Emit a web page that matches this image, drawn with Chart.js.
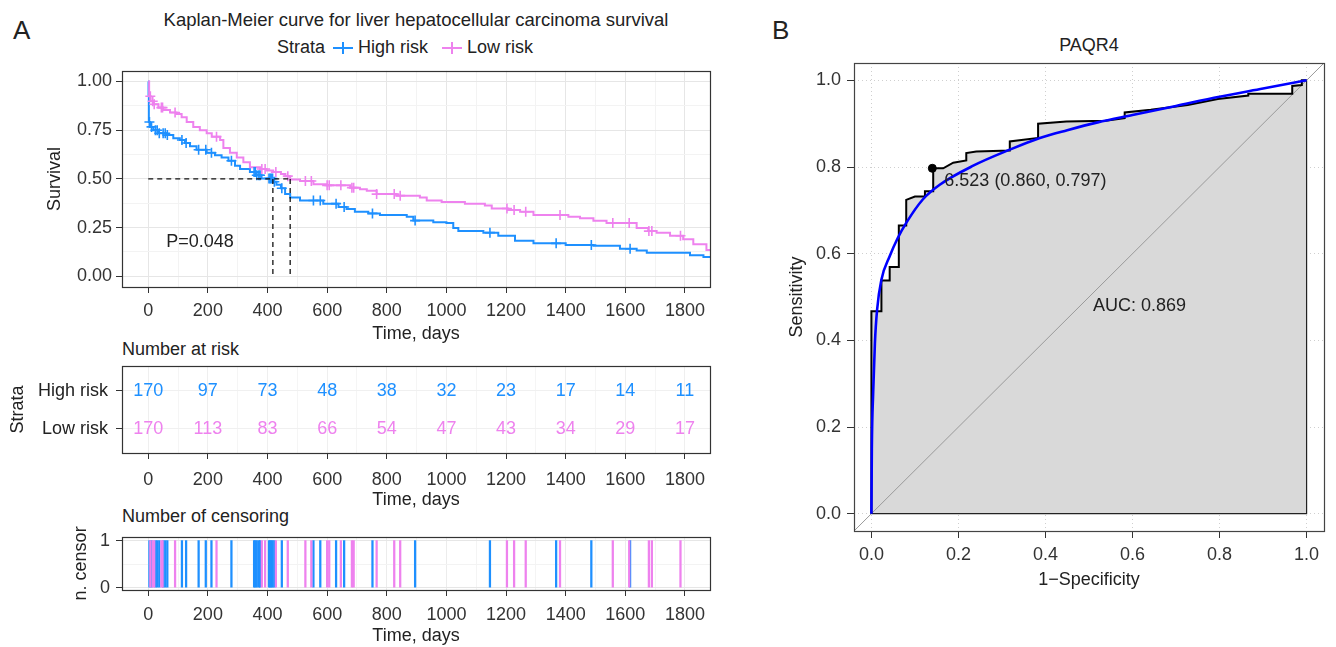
<!DOCTYPE html>
<html>
<head>
<meta charset="utf-8">
<title>KM curve and ROC</title>
<script src="https://cdn.jsdelivr.net/npm/chart.js@4.4.1/dist/chart.umd.min.js"></script>
<style>
  body { margin: 0; width: 1336px; height: 647px; background: #fff; position: relative; overflow: hidden;
         font-family: "Liberation Sans", Arial, sans-serif; color: #222; }
  canvas { position: absolute; }
  .txt { position: absolute; font-size: 18px; line-height: 22px; white-space: nowrap; }
  .key { display: inline-block; width: 20px; height: 12px; position: relative; vertical-align: -1px; }
  .key::before { content: ""; position: absolute; left: 0; right: 0; top: 5px; height: 2px; background: currentColor; }
  .key::after { content: ""; position: absolute; left: 9px; top: 0; width: 2px; height: 12px; background: currentColor; }
</style>
</head>
<body>
<div class="txt" style="left:13px;top:16px;font-size:26px;line-height:28px">A</div>
<div class="txt" style="left:772px;top:16px;font-size:26px;line-height:28px">B</div>
<div class="txt" style="left:0;width:832px;text-align:center;top:9px;font-size:18.5px">Kaplan-Meier curve for liver hepatocellular carcinoma survival</div>
<div class="txt" style="left:277px;top:36px">Strata
  <span class="key" style="color:#1E90FF;margin-left:3px"></span> High risk
  <span class="key" style="color:#EE82EE;margin-left:9px"></span> Low risk</div>
<div class="txt" style="left:122px;top:338px">Number at risk</div>
<div class="txt" style="left:122px;top:505px">Number of censoring</div>
<div class="txt" style="left:854px;width:470px;text-align:center;top:34px">PAQR4</div>

<canvas id="km" width="720" height="290" style="left:0;top:56px"></canvas>
<canvas id="risk" width="720" height="180" style="left:0;top:336px"></canvas>
<canvas id="cens" width="720" height="127" style="left:0;top:520px"></canvas>
<canvas id="roc" width="576" height="580" style="left:760px;top:30px"></canvas>

<script>
// ---- Kaplan-Meier data ----
const strataNames = ['High risk', 'Low risk'];
const highColor = '#1E90FF';
const lowColor = '#EE82EE';

const highTimes = [0, 1, 2, 6, 17, 34, 62, 84, 106, 123, 140, 162, 196, 224, 246, 269, 291, 308, 341, 363,
  380, 418, 430, 445, 459, 476, 509, 587, 638, 665, 693, 738, 777, 867, 889, 956, 1000, 1023, 1040, 1124,
  1174, 1230, 1292, 1400, 1493, 1582, 1638, 1672, 1817, 1862, 1884];
const highSurv = [1.00, 0.932, 0.792, 0.767, 0.750, 0.734, 0.725, 0.709, 0.700, 0.684, 0.667, 0.650, 0.634, 0.622, 0.610, 0.593, 0.568, 0.551, 0.535, 0.519,
  0.502, 0.485, 0.470, 0.452, 0.422, 0.405, 0.389, 0.373, 0.356, 0.345, 0.331, 0.323, 0.315, 0.306, 0.286, 0.278, 0.273, 0.248, 0.232, 0.224,
  0.208, 0.182, 0.169, 0.160, 0.157, 0.141, 0.132, 0.121, 0.108, 0.099, 0.099];

const lowTimes = [0, 3, 8, 17, 34, 50, 73, 95, 112, 129, 151, 173, 196, 213, 241, 252, 274, 297, 319, 341,
  375, 397, 419, 445, 460, 476, 509, 554, 598, 677, 710, 733, 766, 833, 911, 934, 984, 1062, 1129, 1152,
  1207, 1247, 1292, 1409, 1448, 1493, 1537, 1638, 1677, 1705, 1750, 1794, 1828, 1872, 1884];
const lowSurv = [1.00, 0.924, 0.899, 0.883, 0.866, 0.854, 0.841, 0.833, 0.817, 0.792, 0.767, 0.750, 0.734, 0.717, 0.700, 0.659, 0.634, 0.610, 0.585, 0.560,
  0.551, 0.543, 0.535, 0.525, 0.514, 0.497, 0.489, 0.472, 0.467, 0.455, 0.447, 0.439, 0.422, 0.414, 0.405, 0.389, 0.381, 0.373, 0.364, 0.348,
  0.340, 0.331, 0.315, 0.306, 0.298, 0.285, 0.273, 0.248, 0.232, 0.224, 0.208, 0.190, 0.165, 0.135, 0.135];

const censorHigh = [4, 11, 24, 30, 37, 50, 57, 64, 113, 127, 169, 193, 212, 279, 355, 359, 364, 371, 375, 405,
  409, 413, 417, 423, 448, 554, 577, 630, 657, 752, 895, 1146, 1368, 1486, 1616];
const censorLow = [7, 15, 20, 44, 48, 90, 229, 381, 392, 428, 468, 527, 547, 600, 607, 646, 683, 689, 766, 825,
  845, 1203, 1227, 1266, 1381, 1558, 1613, 1679, 1689, 1785];

const medianHigh = 418;
const medianLow = 476;
const pValueText = 'P=0.048';

const riskTimes = [0, 200, 400, 600, 800, 1000, 1200, 1400, 1600, 1800];
const riskHigh = [170, 97, 73, 48, 38, 32, 23, 17, 14, 11];
const riskLow = [170, 113, 83, 66, 54, 47, 43, 34, 29, 17];

const dayTicks = [0, 200, 400, 600, 800, 1000, 1200, 1400, 1600, 1800];
const survTicks = [0, 0.25, 0.5, 0.75, 1];
const dayMin = -88, dayMax = 1884;

// ---- ROC data ----
const rocFpr = [0, 0, 0.023, 0.023, 0.042, 0.042, 0.063, 0.063, 0.080, 0.080, 0.100, 0.123, 0.123, 0.142, 0.142,
  0.165, 0.188, 0.218, 0.218, 0.241, 0.318, 0.318, 0.383, 0.383, 0.448, 0.538, 0.582, 0.582, 0.642, 0.727,
  0.796, 0.866, 0.866, 0.967, 0.967, 0.989, 0.989, 1.0];
const rocTpr = [0, 0.467, 0.467, 0.538, 0.538, 0.569, 0.569, 0.665, 0.665, 0.724, 0.732, 0.732, 0.744, 0.744, 0.797,
  0.797, 0.810, 0.815, 0.832, 0.836, 0.838, 0.859, 0.867, 0.900, 0.905, 0.907, 0.913, 0.926, 0.932, 0.943,
  0.957, 0.965, 0.969, 0.969, 0.987, 0.989, 1.0, 1.0];
const smoothFpr = [0, 0.001, 0.004, 0.008, 0.013, 0.023, 0.042, 0.060, 0.080, 0.118, 0.157, 0.234, 0.318, 0.387, 0.450, 0.520, 0.600, 0.700, 0.800, 0.900, 1.0];
const smoothTpr = [0, 0.150, 0.278, 0.393, 0.470, 0.540, 0.594, 0.635, 0.671, 0.725, 0.759, 0.803, 0.840, 0.867, 0.885, 0.903, 0.920, 0.941, 0.962, 0.981, 1.0];
const thrFpr = 0.14, thrTpr = 0.797;
const thrLabel = '6.523 (0.860, 0.797)';
const aucLabel = 'AUC: 0.869';
const rocTicks = [0, 0.2, 0.4, 0.6, 0.8, 1.0];
const rocMin = -0.04, rocMax = 1.04;

// ---- defaults ----
const FONT = '"Liberation Sans", Arial, sans-serif';
Chart.defaults.font.family = FONT;
Chart.defaults.font.size = 18;
Chart.defaults.color = '#333';
Chart.defaults.animation = false;
Chart.defaults.events = [];
Chart.defaults.plugins.legend.display = false;
Chart.defaults.plugins.tooltip.enabled = false;

const pts = (xs, ys) => xs.map((x, i) => ({ x, y: ys[i] }));
function survAt(times, surv, t) {
  let s = surv[0];
  for (let i = 0; i < times.length; i++) { if (times[i] <= t) s = surv[i]; }
  return s;
}
const isIn = (arr, v) => arr.some(a => Math.abs(a - v) < 1e-9);

const panelBox = {
  id: 'panelBox',
  afterDatasetsDraw(chart, args, opts) {
    const a = chart.chartArea, ctx = chart.ctx;
    ctx.save();
    ctx.strokeStyle = opts.color || '#333';
    ctx.lineWidth = opts.width || 1;
    ctx.strokeRect(Math.round(a.left) + 0.5, Math.round(a.top) + 0.5, Math.round(a.right - a.left), Math.round(a.bottom - a.top));
    ctx.restore();
  }
};

function dayAxis(height, tickPad, titlePad, major, minor) {
  const grid = dayTicks.flatMap(v => [v, v + 100]).filter(v => v <= dayMax);
  return {
    type: 'linear', min: dayMin, max: dayMax, offset: false,
    afterBuildTicks: s => { s.ticks = grid.map(v => ({ value: v })); },
    afterFit: s => { s.height = height; },
    ticks: { autoSkip: false, maxRotation: 0, padding: tickPad, color: '#333',
      callback: v => isIn(dayTicks, v) ? String(v) : '' },
    grid: {
      offset: false,
      color: c => (c.tick && isIn(dayTicks, c.tick.value)) ? major : minor,
      tickColor: c => (c.tick && isIn(dayTicks, c.tick.value)) ? '#333' : 'rgba(0,0,0,0)',
      tickLength: 6
    },
    border: { display: false },
    title: { display: true, text: 'Time, days', color: '#222', padding: { top: 0, bottom: titlePad } }
  };
}

// ---- Kaplan-Meier chart ----
const survGrid = survTicks.flatMap(v => [v, v + 0.125]).filter(v => v <= 1);
new Chart(document.getElementById('km'), {
  type: 'line',
  data: {
    datasets: [
      { data: [{ x: 0, y: 0.5 }, { x: medianLow, y: 0.5 }], borderColor: '#111', borderWidth: 1.3, borderDash: [5, 4], pointRadius: 0, order: 0 },
      { data: [{ x: medianHigh, y: 0.5 }, { x: medianHigh, y: 0 }], borderColor: '#111', borderWidth: 1.3, borderDash: [5, 4], pointRadius: 0, order: 0 },
      { data: [{ x: medianLow, y: 0.5 }, { x: medianLow, y: 0 }], borderColor: '#111', borderWidth: 1.3, borderDash: [5, 4], pointRadius: 0, order: 0 },
      { data: censorLow.map(t => ({ x: t, y: survAt(lowTimes, lowSurv, t) })), showLine: false,
        pointStyle: 'cross', pointRadius: 5, pointBorderWidth: 1.6, borderColor: lowColor, order: 1 },
      { data: censorHigh.map(t => ({ x: t, y: survAt(highTimes, highSurv, t) })), showLine: false,
        pointStyle: 'cross', pointRadius: 5, pointBorderWidth: 1.6, borderColor: highColor, order: 1 },
      { data: pts(lowTimes, lowSurv), stepped: true, borderColor: lowColor, borderWidth: 2, pointRadius: 0, order: 2 },
      { data: pts(highTimes, highSurv), stepped: true, borderColor: highColor, borderWidth: 2, pointRadius: 0, order: 3 }
    ]
  },
  options: {
    responsive: false,
    layout: { padding: { left: 0, right: 10, top: 8, bottom: 0 } },
    scales: {
      x: dayAxis(59, 7, 1, '#e6e6e6', '#f3f3f3'),
      y: {
        type: 'linear', min: -0.055, max: 1.055,
        afterBuildTicks: s => { s.ticks = survGrid.map(v => ({ value: v })); },
        afterFit: s => { s.width = 122; },
        ticks: { autoSkip: false, padding: 4, color: '#333', callback: v => isIn(survTicks, v) ? v.toFixed(2) : '' },
        grid: {
          color: c => (c.tick && isIn(survTicks, c.tick.value)) ? '#e6e6e6' : '#f3f3f3',
          tickColor: c => (c.tick && isIn(survTicks, c.tick.value)) ? '#333' : 'rgba(0,0,0,0)',
          tickLength: 6
        },
        border: { display: false },
        title: { display: true, text: 'Survival', color: '#222', padding: { top: 44, bottom: 0 } }
      }
    },
    plugins: { panelBox: { color: '#333', width: 1.2 } }
  },
  plugins: [panelBox, {
    id: 'pval',
    afterDatasetsDraw(chart) {
      const { ctx, scales: { x, y } } = chart;
      ctx.save();
      ctx.font = '18px ' + FONT;
      ctx.fillStyle = '#222';
      ctx.textAlign = 'left';
      ctx.textBaseline = 'middle';
      ctx.fillText(pValueText, x.getPixelForValue(60), y.getPixelForValue(0.175));
      ctx.restore();
    }
  }]
});

// ---- Number at risk table ----
new Chart(document.getElementById('risk'), {
  type: 'line',
  data: { datasets: [{ data: [] }] },
  options: {
    responsive: false,
    layout: { padding: { left: 0, right: 10, top: 30, bottom: 0 } },
    scales: {
      x: dayAxis(63, 10, 5, '#efefef', '#f5f5f5'),
      y: {
        type: 'linear', min: 0.355, max: 2.663,
        afterBuildTicks: s => { s.ticks = [{ value: 1 }, { value: 2 }]; },
        afterFit: s => { s.width = 122; },
        ticks: { autoSkip: false, padding: 8, color: '#222', callback: v => v === 2 ? strataNames[0] : strataNames[1] },
        grid: { color: '#f0f0f0', tickColor: '#333', tickLength: 6 },
        border: { display: false },
        title: { display: true, text: 'Strata', color: '#222', padding: { top: 7, bottom: 0 } }
      }
    },
    plugins: { panelBox: { color: '#333', width: 1.2 } }
  },
  plugins: [panelBox, {
    id: 'riskText',
    afterDatasetsDraw(chart) {
      const { ctx, scales: { x, y } } = chart;
      ctx.save();
      ctx.font = '18px ' + FONT;
      ctx.textAlign = 'center';
      ctx.textBaseline = 'middle';
      riskTimes.forEach((t, i) => {
        ctx.fillStyle = highColor;
        ctx.fillText(String(riskHigh[i]), x.getPixelForValue(t), y.getPixelForValue(2));
        ctx.fillStyle = lowColor;
        ctx.fillText(String(riskLow[i]), x.getPixelForValue(t), y.getPixelForValue(1));
      });
      ctx.restore();
    }
  }]
});

// ---- Number of censoring ----
const censTicks = [0, 1];
new Chart(document.getElementById('cens'), {
  type: 'bar',
  data: {
    datasets: [
      { data: censorLow.map(t => ({ x: t, y: 1 })), backgroundColor: lowColor, barThickness: 1.6, grouped: false },
      { data: censorHigh.map(t => ({ x: t, y: 1 })), backgroundColor: highColor, barThickness: 1.6, grouped: false }
    ]
  },
  options: {
    responsive: false,
    layout: { padding: { left: 0, right: 10, top: 12, bottom: 0 } },
    scales: {
      x: dayAxis(57, 8, 0, '#ececec', '#f4f4f4'),
      y: {
        type: 'linear', min: -0.05, max: 1.08,
        afterBuildTicks: s => { s.ticks = [{ value: 0 }, { value: 0.5 }, { value: 1 }]; },
        afterFit: s => { s.width = 122; },
        ticks: { autoSkip: false, padding: 6, color: '#333', callback: v => isIn(censTicks, v) ? String(v) : '' },
        grid: {
          color: c => (c.tick && isIn(censTicks, c.tick.value)) ? '#e6e6e6' : '#f3f3f3',
          tickColor: c => (c.tick && isIn(censTicks, c.tick.value)) ? '#333' : 'rgba(0,0,0,0)',
          tickLength: 6
        },
        border: { display: false },
        title: { display: true, text: 'n. censor', color: '#222', padding: { top: 70, bottom: 0 } }
      }
    },
    plugins: { panelBox: { color: '#333', width: 1.2 } }
  },
  plugins: [panelBox]
});

// ---- ROC curve ----
function rocAxis(isX) {
  return {
    type: 'linear', min: rocMin, max: rocMax,
    afterBuildTicks: s => { s.ticks = rocTicks.map(v => ({ value: v })); },
    afterFit: s => { if (isX) s.height = 79; else s.width = 94; },
    ticks: { autoSkip: false, maxRotation: 0, padding: 6, color: '#333', callback: v => v.toFixed(1) },
    grid: { color: '#cfcfcf', tickColor: '#333', tickLength: 7, lineWidth: 1 },
    border: { display: false, dash: [1, 3] },
    title: { display: true, text: isX ? '1\u2212Specificity' : 'Sensitivity', color: '#222',
      padding: isX ? { top: 0, bottom: 19 } : { top: 26, bottom: 0 } }
  };
}
new Chart(document.getElementById('roc'), {
  type: 'line',
  data: {
    datasets: [
      { data: [{ x: thrFpr, y: thrTpr }], showLine: false, pointRadius: 4, backgroundColor: '#000', borderColor: '#000', order: 0 },
      { data: pts(smoothFpr, smoothTpr), borderColor: '#0000FF', borderWidth: 2.6, pointRadius: 0, cubicInterpolationMode: 'monotone', order: 1 },
      { data: pts(rocFpr, rocTpr), borderColor: '#000', borderWidth: 2, pointRadius: 0, order: 2 },
      { data: [{ x: rocMin, y: rocMin }, { x: rocMax, y: rocMax }], borderColor: '#9a9a9a', borderWidth: 1, pointRadius: 0, order: 3 },
      { data: [{ x: 0, y: 0 }, { x: 1, y: 0 }, { x: 1, y: 1 }], borderColor: '#222', borderWidth: 1.2, pointRadius: 0, order: 4 },
      { data: pts(rocFpr, rocTpr), borderWidth: 0, pointRadius: 0, fill: 'origin', backgroundColor: '#d9d9d9', order: 5 }
    ]
  },
  options: {
    responsive: false,
    layout: { padding: { left: 0, right: 12, top: 33, bottom: 0 } },
    scales: { x: rocAxis(true), y: rocAxis(false) },
    plugins: { panelBox: { color: '#444', width: 1.2 } }
  },
  plugins: [panelBox, {
    id: 'rocText',
    afterDatasetsDraw(chart) {
      const { ctx, scales: { x, y } } = chart;
      ctx.save();
      ctx.font = '18px ' + FONT;
      ctx.fillStyle = '#222';
      ctx.textAlign = 'left';
      ctx.textBaseline = 'middle';
      ctx.fillText(thrLabel, x.getPixelForValue(thrFpr) + 12, y.getPixelForValue(thrTpr) + 13);
      ctx.textBaseline = 'top';
      ctx.fillText(aucLabel, x.getPixelForValue(0.5) + 4, y.getPixelForValue(0.5));
      ctx.restore();
    }
  }]
});
</script>
</body>
</html>
